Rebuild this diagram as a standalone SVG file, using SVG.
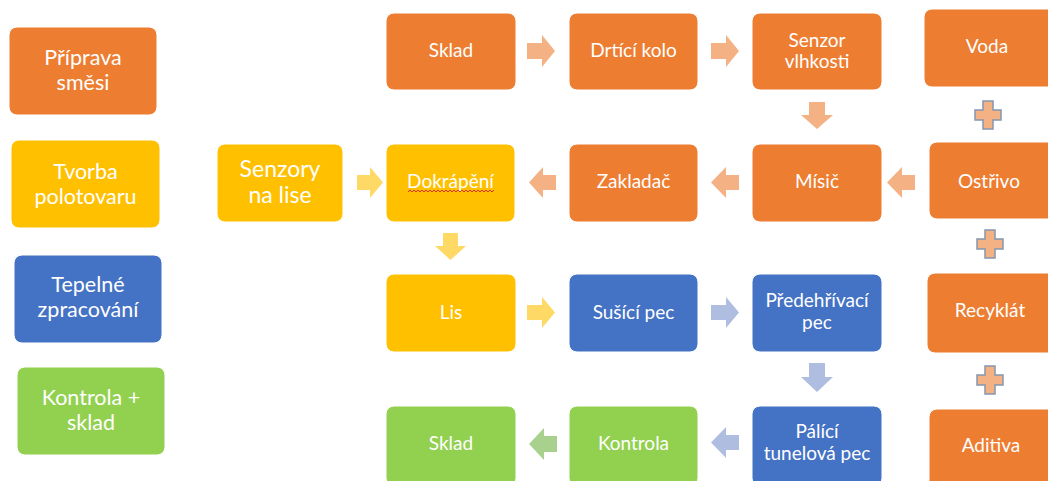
<svg xmlns="http://www.w3.org/2000/svg" width="1048" height="481" viewBox="0 0 1048 481">
  <style>
    .box { stroke: #ffffff; stroke-width: 1; }
    .orange { fill: #ED7D31; }
    .yellow { fill: #FFC000; }
    .blue { fill: #4472C4; }
    .green { fill: #92D050; }
    text { font-family: Lato, "Liberation Sans", sans-serif; fill: #ffffff; text-anchor: middle; }
    .t { font-size: 19px; }
    .legend { font-size: 21.5px; }
    .big { font-size: 23px; }
    .a-orange { fill: #F4B183; }
    .a-yellow { fill: #FFD966; }
    .a-blue { fill: #AFBEE0; }
    .a-green { fill: #A9D18E; }
    .plus { fill: #F4B183; stroke: #8497B0; stroke-width: 1.5; }
    .squiggle { fill: none; stroke: #E0301E; stroke-width: 1; }
  </style>

  <!-- legend -->
  <g id="legend-priprava">
    <rect class="box orange" x="9" y="27" width="148" height="88" rx="8"/>
    <text class="legend" x="83" y="65">Příprava</text>
    <text class="legend" x="83" y="90">směsi</text>
  </g>
  <g id="legend-tvorba">
    <rect class="box yellow" x="11" y="140" width="149" height="88" rx="8"/>
    <text class="legend" x="85.5" y="179">Tvorba</text>
    <text class="legend" x="85.5" y="204">polotovaru</text>
  </g>
  <g id="legend-tepelne">
    <rect class="box blue" x="14" y="255" width="148" height="88" rx="8"/>
    <text class="legend" x="88" y="292">Tepelné</text>
    <text class="legend" x="88" y="317">zpracování</text>
  </g>
  <g id="legend-kontrola">
    <rect class="box green" x="17" y="367" width="148" height="88" rx="8"/>
    <text class="legend" x="91" y="405">Kontrola +</text>
    <text class="legend" x="91" y="430">sklad</text>
  </g>

  <!-- mixture preparation -->
  <g id="sklad-vstup">
    <rect class="box orange" x="386" y="13" width="130" height="77" rx="8"/>
    <text class="t" x="451" y="57">Sklad</text>
  </g>
  <g id="drtici-kolo">
    <rect class="box orange" x="569" y="13" width="129" height="77" rx="8"/>
    <text class="t" x="633.5" y="57">Drtící kolo</text>
  </g>
  <g id="senzor-vlhkosti">
    <rect class="box orange" x="752" y="13" width="130" height="77" rx="8"/>
    <text class="t" x="817" y="47">Senzor</text>
    <text class="t" x="817" y="68">vlhkosti</text>
  </g>
  <g id="voda">
    <rect class="box orange" x="924" y="9" width="132" height="78" rx="8"/>
    <text class="t" x="987" y="53">Voda</text>
  </g>
  <g id="ostrivo">
    <rect class="box orange" x="929" y="142" width="127" height="77" rx="8"/>
    <text class="t" x="989" y="188">Ostřivo</text>
  </g>
  <g id="recyklat">
    <rect class="box orange" x="927" y="273" width="129" height="80" rx="8"/>
    <text class="t" x="990" y="317">Recyklát</text>
  </g>
  <g id="aditiva">
    <rect class="box orange" x="929" y="409" width="127" height="80" rx="8"/>
    <text class="t" x="991" y="452">Aditiva</text>
  </g>
  <g id="misic">
    <rect class="box orange" x="752" y="144" width="130" height="78" rx="8"/>
    <text class="t" x="817" y="188">Mísič</text>
  </g>
  <g id="zakladac">
    <rect class="box orange" x="569" y="144" width="129" height="78" rx="8"/>
    <text class="t" x="633.5" y="188">Zakladač</text>
  </g>

  <!-- semi-product forming -->
  <g id="senzory-na-lise">
    <rect class="box yellow" x="217" y="144" width="126" height="78" rx="8"/>
    <text class="big" x="280" y="177">Senzory</text>
    <text class="big" x="280" y="203">na lise</text>
  </g>
  <g id="dokrapeni">
    <rect class="box yellow" x="386" y="144" width="129" height="78" rx="8"/>
    <text class="t" x="450.5" y="188">Dokrápění</text>
    <path class="squiggle" d="M408,192 l2,-2 l2,2 l2,-2 l2,2 l2,-2 l2,2 l2,-2 l2,2 l2,-2 l2,2 l2,-2 l2,2 l2,-2 l2,2 l2,-2 l2,2 l2,-2 l2,2 l2,-2 l2,2 l2,-2 l2,2 l2,-2 l2,2 l2,-2 l2,2 l2,-2 l2,2 l2,-2 l2,2 l2,-2 l2,2 l2,-2 l2,2 l2,-2 l2,2 l2,-2 l2,2 l2,-2 l2,2 l2,-2 l2,2 l2,-2"/>
  </g>
  <g id="lis">
    <rect class="box yellow" x="386" y="274" width="130" height="78" rx="8"/>
    <text class="t" x="451" y="319">Lis</text>
  </g>

  <!-- heat treatment -->
  <g id="susici-pec">
    <rect class="box blue" x="569" y="274" width="129" height="78" rx="8"/>
    <text class="t" x="633.5" y="319">Sušící pec</text>
  </g>
  <g id="predehrivaci-pec">
    <rect class="box blue" x="752" y="274" width="130" height="78" rx="8"/>
    <text class="t" x="817" y="307">Předehřívací</text>
    <text class="t" x="817" y="329">pec</text>
  </g>
  <g id="palici-tunelova-pec">
    <rect class="box blue" x="752" y="406" width="130" height="80" rx="8"/>
    <text class="t" x="817" y="438">Pálící</text>
    <text class="t" x="817" y="460">tunelová pec</text>
  </g>

  <!-- inspection and storage -->
  <g id="kontrola">
    <rect class="box green" x="569" y="406" width="129" height="80" rx="8"/>
    <text class="t" x="633.5" y="450">Kontrola</text>
  </g>
  <g id="sklad-vystup">
    <rect class="box green" x="386" y="406" width="130" height="80" rx="8"/>
    <text class="t" x="451" y="450">Sklad</text>
  </g>

  <!-- block arrows and plus signs -->
  <g id="connectors">
    <path class="a-orange" d="M527,43 H542 V35 L555,51 L542,67 V59 H527 Z"/>
    <path class="a-orange" d="M711,43 H726 V35 L739,51 L726,67 V59 H711 Z"/>
    <path class="a-orange" d="M809,102 H825 V115 H833 L817,129 L801,115 H809 Z"/>
    <path class="a-orange" d="M915,175 H902 V167 L887,182.5 L902,198 V190 H915 Z"/>
    <path class="a-orange" d="M739,175 H726 V167 L711,182.5 L726,198 V190 H739 Z"/>
    <path class="a-orange" d="M556,175 H543 V167 L529,182.5 L543,198 V190 H556 Z"/>

    <path class="a-yellow" d="M357,175 H370 V167 L383,182.5 L370,198 V190 H357 Z"/>
    <path class="a-yellow" d="M443,233 H458 V246 H466 L450.5,260 L435,246 H443 Z"/>
    <path class="a-yellow" d="M527,305 H542 V297 L555,312.5 L542,328 V320 H527 Z"/>

    <path class="a-blue" d="M711,305 H726 V297 L739,312.5 L726,328 V320 H711 Z"/>
    <path class="a-blue" d="M809,363 H825 V377 H833 L817,392 L801,377 H809 Z"/>
    <path class="a-blue" d="M739,435 H726 V427 L711,442.5 L726,458 V450 H739 Z"/>

    <path class="a-green" d="M557,436 H544 V428 L529,444 L544,460 V452 H557 Z"/>

    <path class="plus" d="M983,101 H993 V110 H1001 V120 H993 V129 H983 V120 H975 V110 H983 Z"/>
    <path class="plus" d="M985,230 H995 V239 H1003 V249 H995 V258 H985 V249 H977 V239 H985 Z"/>
    <path class="plus" d="M985,366 H995 V375 H1003 V385 H995 V394 H985 V385 H977 V375 H985 Z"/>
  </g>
</svg>
